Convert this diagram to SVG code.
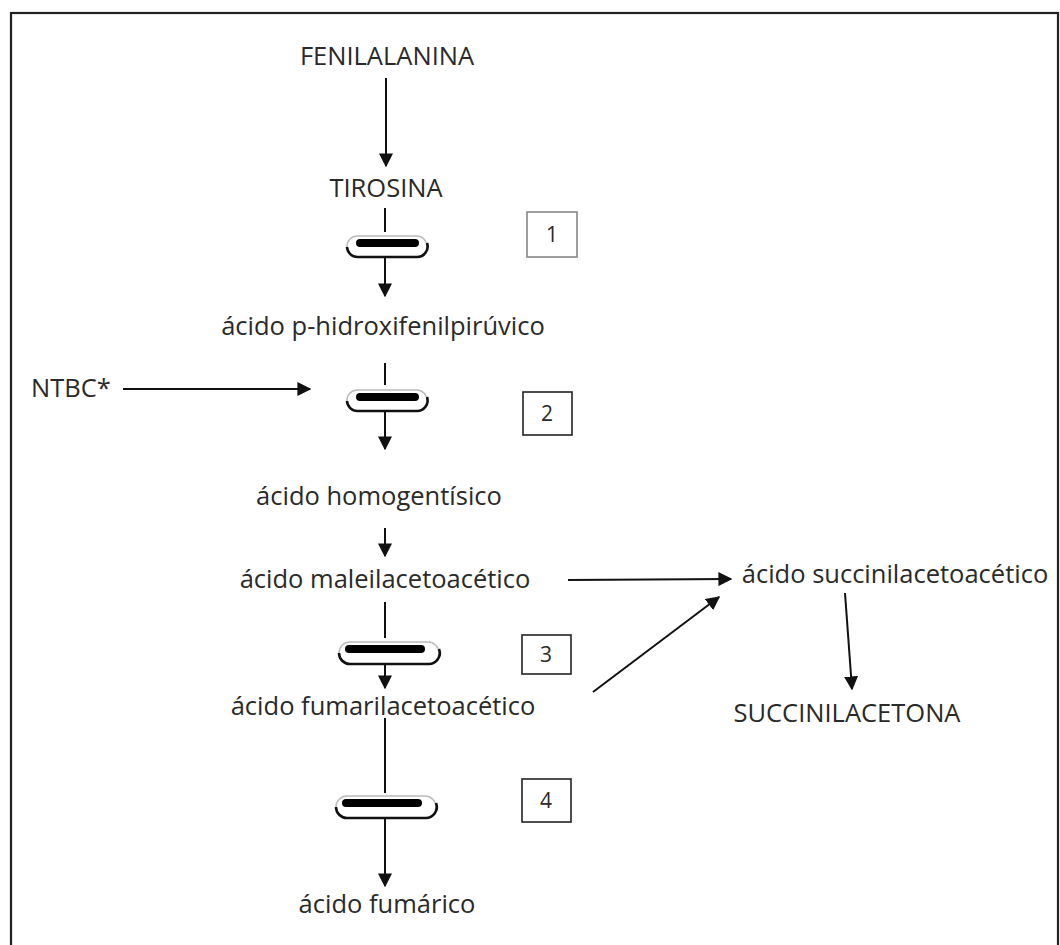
<svg xmlns="http://www.w3.org/2000/svg" width="1060" height="945" viewBox="0 0 1060 945">
<style>
text{font-family:"Open Sans","Noto Sans","Liberation Sans",sans-serif;font-size:25.5px;fill:#2a2a2a;text-anchor:middle}
.num{font-size:21px}
.ln{stroke:#111;stroke-width:2;fill:none}
.box{fill:#fff;stroke:#222;stroke-width:1.6}
.box1{fill:#fff;stroke:#888;stroke-width:1.6}
</style>
<defs>
<marker id="ah" viewBox="0 0 10 10" refX="9" refY="5" markerWidth="7" markerHeight="7" orient="auto" markerUnits="strokeWidth">
<path d="M0,0 L10,5 L0,10 z" fill="#111"/>
</marker>
<g id="blkS">
<rect x="-40" y="-7" width="80" height="21" rx="10.5" fill="#fff" stroke="#bbb" stroke-width="1.5"/>
<path d="M-40,4 a10.5,10.5 0 0 0 10.5,10 h59 a10.5,10.5 0 0 0 10.5,-14" fill="none" stroke="#111" stroke-width="2.6"/>
<rect x="-31" y="-4" width="63" height="8" rx="4" fill="#000"/>
</g>
<g id="blkL">
<rect x="-48" y="-7" width="100" height="22" rx="11" fill="#fff" stroke="#bbb" stroke-width="1.5"/>
<path d="M-48,4 a11,11 0 0 0 11,11 h78 a11,11 0 0 0 11,-15" fill="none" stroke="#111" stroke-width="2.6"/>
<rect x="-42" y="-4" width="80" height="8" rx="4" fill="#000"/>
</g>
</defs>
<rect x="0" y="0" width="1060" height="945" fill="#fff"/>
<rect x="11" y="13" width="1047" height="945" fill="none" stroke="#222" stroke-width="2.2"/>

<g id="connectors">
<line class="ln" x1="386" y1="78" x2="386" y2="166" marker-end="url(#ah)"/>
<line class="ln" x1="385" y1="208" x2="385" y2="232"/>
<line class="ln" x1="385" y1="256" x2="385" y2="296" marker-end="url(#ah)"/>
<line class="ln" x1="385" y1="363" x2="385" y2="385"/>
<line class="ln" x1="385" y1="410" x2="385" y2="449" marker-end="url(#ah)"/>
<line class="ln" x1="123" y1="389" x2="310" y2="389" marker-end="url(#ah)"/>
<line class="ln" x1="385" y1="528" x2="385" y2="556" marker-end="url(#ah)"/>
<line class="ln" x1="385" y1="602" x2="385" y2="638"/>
<line class="ln" x1="385" y1="663" x2="385" y2="688" marker-end="url(#ah)"/>
<line class="ln" x1="385" y1="718" x2="385" y2="793"/>
<line class="ln" x1="385" y1="818" x2="385" y2="886" marker-end="url(#ah)"/>
<line class="ln" x1="568" y1="580" x2="731" y2="579" marker-end="url(#ah)"/>
<line class="ln" x1="593" y1="692" x2="719" y2="597" marker-end="url(#ah)"/>
<line class="ln" x1="845" y1="593" x2="852" y2="689" marker-end="url(#ah)"/>
</g>

<g id="blocks">
<use href="#blkS" x="387" y="243"/>
<use href="#blkS" x="387" y="397"/>
<use href="#blkL" x="387" y="649"/>
<use href="#blkL" x="384" y="803"/>
</g>

<g id="n-fenilalanina"><text x="387" y="65">FENILALANINA</text></g>
<g id="n-tirosina"><text x="386" y="197">TIROSINA</text></g>
<g id="n-box1"><rect class="box1" x="527" y="212" width="50" height="45"/><text class="num" x="552" y="242">1</text></g>
<g id="n-phpp"><text x="383" y="335">ácido p-hidroxifenilpirúvico</text></g>
<g id="n-ntbc"><text x="71" y="397">NTBC*</text></g>
<g id="n-box2"><rect class="box" x="523" y="392" width="49" height="43"/><text class="num" x="547" y="421">2</text></g>
<g id="n-homogentisico"><text x="379" y="505">ácido homogentísico</text></g>
<g id="n-maleil"><text x="385" y="588">ácido maleilacetoacético</text></g>
<g id="n-box3"><rect class="box" x="522" y="635" width="49" height="39"/><text class="num" x="546" y="662">3</text></g>
<g id="n-fumaril"><text x="383" y="715">ácido fumarilacetoacético</text></g>
<g id="n-box4"><rect class="box" x="522" y="779" width="49" height="43"/><text class="num" x="546" y="808">4</text></g>
<g id="n-fumarico"><text x="387" y="913">ácido fumárico</text></g>
<g id="n-succinilacetoacetico"><text x="895" y="583">ácido succinilacetoacético</text></g>
<g id="n-succinilacetona"><text x="847" y="722">SUCCINILACETONA</text></g>
</svg>
